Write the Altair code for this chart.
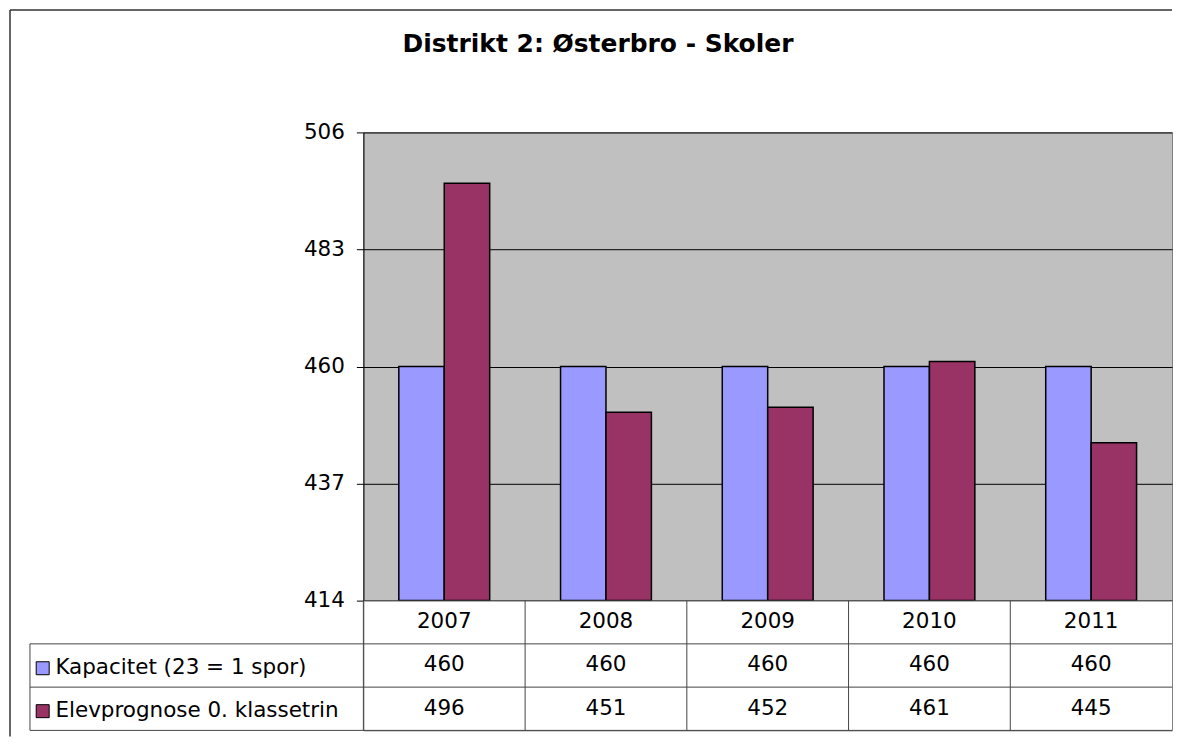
import altair as alt
import pandas as pd

# ---- data ----
years = ["2007", "2008", "2009", "2010", "2011"]
series_names = ["Kapacitet (23 = 1 spor)", "Elevprognose 0. klassetrin"]
kapacitet = [460, 460, 460, 460, 460]
elevprognose = [496, 451, 452, 461, 445]
y_ticks = [414, 437, 460, 483, 506]
colors = ["#9999FF", "#993366"]
title_text = "Distrikt 2: Østerbro - Skoler"
header_key = "År"

FONT = "DejaVu Sans"
FS = 21.5
W, H_TOP, H_TAB = 810, 469, 130
LINE = "#444444"

bars_df = pd.DataFrame({
    "year": years * 2,
    "serie": [series_names[0]] * len(years) + [series_names[1]] * len(years),
    "value": kapacitet + elevprognose,
})

table_rows = [header_key] + series_names
table_df = pd.DataFrame({
    "row": [header_key] * len(years) + [series_names[0]] * len(years) + [series_names[1]] * len(years),
    "year": years * 3,
    "label": years + [str(v) for v in kapacitet] + [str(v) for v in elevprognose],
})
rows_df = pd.DataFrame({"row": table_rows})
cols_df = pd.DataFrame({"year": years})
one_row = pd.DataFrame({"k": [0]})

# ---- top chart: bars ----
bars = alt.Chart(bars_df).mark_bar(stroke="black", strokeWidth=1.5).encode(
    x=alt.X("year:N", sort=years,
            scale=alt.Scale(paddingInner=0, paddingOuter=0),
            axis=alt.Axis(labels=False, ticks=False, title=None, grid=False,
                          domainColor="black", domainWidth=1)),
    xOffset=alt.XOffset("serie:N", sort=series_names,
                        scale=alt.Scale(paddingInner=0, paddingOuter=0.78)),
    y=alt.Y("value:Q",
            scale=alt.Scale(domain=[414, 506], zero=False, nice=False),
            axis=alt.Axis(values=y_ticks, title=None, grid=True, gridColor="black",
                          gridWidth=1, domainColor="black", tickColor="black",
                          tickSize=7, labelFontSize=FS, labelFont=FONT,
                          labelColor="black", labelPadding=12)),
    y2=alt.datum(414),
    color=alt.Color("serie:N", sort=series_names,
                    scale=alt.Scale(domain=series_names, range=colors),
                    legend=alt.Legend(orient="none", legendX=-332, legendY=526,
                                      title=None, direction="vertical",
                                      symbolType="square", symbolSize=169,
                                      symbolStrokeColor="black", symbolStrokeWidth=1,
                                      symbolOpacity=1, labelLimit=500,
                                      labelFontSize=FS, labelFont=FONT,
                                      labelColor="black", rowPadding=20,
                                      labelOffset=2, padding=0)),
)

frame_left = alt.Chart(one_row).mark_rule(color="#333333", strokeWidth=1.5).encode(
    x=alt.value(-354), y=alt.value(-122.5), y2=alt.value(605))
frame_top = alt.Chart(one_row).mark_rule(color="#333333", strokeWidth=1.5).encode(
    x=alt.value(-354), x2=alt.value(810), y=alt.value(-122.5))

top = alt.layer(frame_left, frame_top, bars).properties(
    width=W, height=H_TOP,
    view=alt.ViewBackground(fill="#C0C0C0", stroke="#808080"))

# ---- bottom chart: data table ----
x_tab = dict(sort=years, scale=alt.Scale(paddingInner=0, paddingOuter=0), axis=None)
y_tab = dict(sort=table_rows, scale=alt.Scale(paddingInner=0, paddingOuter=0), axis=None)

tab_text = alt.Chart(table_df).mark_text(fontSize=FS, font=FONT, color="black").encode(
    x=alt.X("year:N", **x_tab),
    y=alt.Y("row:N", **y_tab),
    text="label:N",
)
h_lines = alt.Chart(rows_df).mark_rule(color=LINE, strokeWidth=1).encode(
    y=alt.Y("row:N", bandPosition=1, **y_tab),
    x=alt.value(-334), x2=alt.value(W),
)
v_lines = alt.Chart(cols_df).mark_rule(color=LINE, strokeWidth=1).encode(
    x=alt.X("year:N", bandPosition=0, **x_tab),
)
left_border = alt.Chart(one_row).mark_rule(color=LINE).encode(
    x=alt.value(-334), y=alt.value(H_TAB / 3), y2=alt.value(H_TAB))

table = alt.layer(v_lines, h_lines, left_border, tab_text).properties(
    width=W, height=H_TAB,
    view=alt.ViewBackground(fill="white", stroke="#808080"))

chart = alt.vconcat(
    top, table, spacing=0, bounds="flush", padding=0,
    title=alt.Title(title_text, fontSize=25, font=FONT, fontWeight="bold",
                    color="black", anchor="middle", offset=-68,
                    baseline="alphabetic", dx=7),
).resolve_scale(x="independent", y="independent", color="independent"
).resolve_legend(color="independent").configure(font=FONT)

chart.save("out.html", embed_options={"renderer": "svg", "actions": False})
